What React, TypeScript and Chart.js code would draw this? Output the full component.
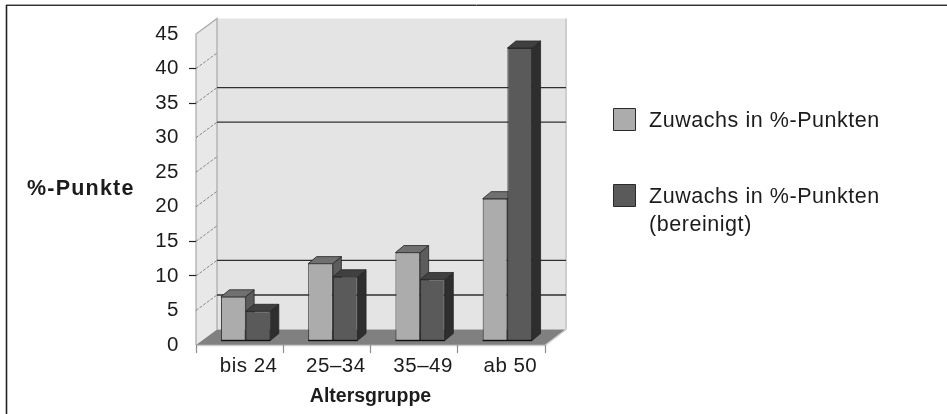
import React, { useEffect, useRef } from "react";
import { Chart, registerables } from "chart.js";

Chart.register(...registerables);

const categories = ["bis 24", "25–34", "35–49", "ab 50"];
const zuwachs = [6.4, 11.2, 12.8, 20.6];
const bereinigt = [4.3, 9.3, 8.9, 42.4];
const seriesOneLabel = "Zuwachs in %-Punkten";
const seriesTwoLabel = ["Zuwachs in %-Punkten", "(bereinigt)"];
const backWallLines = [5, 10, 30, 35];
const markedYTicks = [10, 15, 35, 40];
const yTitle = "%-Punkte";
const xTitle = "Altersgruppe";

const FONT = '"Liberation Sans", Arial, sans-serif';
const DX = 21;
const DY = -15.5;
const BAR_SHIFT_X = 6;
const BAR_SHIFT_Y = -4;
const BAR_DX = 8.5;
const BAR_DY = -7;

const faces = [
  { top: "#707070", side: "#5c5c5c" },
  { top: "#404040", side: "#2e2e2e" },
];

function poly(ctx: CanvasRenderingContext2D, pts: number[][], fill: string, stroke?: string, lw = 1) {
  ctx.beginPath();
  pts.forEach((p, i) => (i ? ctx.lineTo(p[0], p[1]) : ctx.moveTo(p[0], p[1])));
  ctx.closePath();
  ctx.fillStyle = fill;
  ctx.fill();
  if (stroke) {
    ctx.strokeStyle = stroke;
    ctx.lineWidth = lw;
    ctx.stroke();
  }
}

const threeD = {
  id: "threeD",
  beforeDraw(chart: any) {
    const ctx = chart.ctx as CanvasRenderingContext2D;
    const { left, right, top, bottom } = chart.chartArea;
    const y = chart.scales.y;
    ctx.save();
    ctx.fillStyle = "#fff";
    ctx.fillRect(0, 0, chart.width, chart.height);
    // page frame
    ctx.lineWidth = 1;
    ctx.strokeStyle = "#a0a0a0";
    ctx.beginPath();
    ctx.moveTo(6, 4.5);
    ctx.lineTo(chart.width, 4.5);
    ctx.stroke();
    ctx.strokeStyle = "#333333";
    ctx.beginPath();
    ctx.moveTo(6, 5.5);
    ctx.lineTo(chart.width, 5.5);
    ctx.stroke();
    ctx.strokeStyle = "#222";
    ctx.lineWidth = 1.6;
    ctx.beginPath();
    ctx.moveTo(6.5, 5);
    ctx.lineTo(6.5, chart.height);
    ctx.stroke();
    // back wall
    poly(ctx, [[left + DX, top + DY], [right + DX, top + DY], [right + DX, bottom + DY], [left + DX, bottom + DY]], "#e4e4e4");
    // side wall
    poly(ctx, [[left, top], [left + DX, top + DY], [left + DX, bottom + DY], [left, bottom]], "#e8e8e8");
    ctx.strokeStyle = "#a8a8a8";
    ctx.lineWidth = 1.2;
    ctx.beginPath();
    ctx.moveTo(left, bottom);
    ctx.lineTo(left, top);
    ctx.lineTo(left + DX, top + DY);
    ctx.lineTo(left + DX, bottom + DY);
    ctx.stroke();
    ctx.strokeStyle = "#cfcfcf";
    ctx.lineWidth = 2;
    ctx.beginPath();
    ctx.moveTo(right + DX, top + DY);
    ctx.lineTo(right + DX, bottom + DY);
    ctx.stroke();
    // side-wall grid
    ctx.strokeStyle = "#6e6e6e";
    ctx.lineWidth = 0.8;
    y.ticks.forEach((t: any) => {
      if (t.value === 0 || t.value === 45) return;
      const py = y.getPixelForValue(t.value);
      ctx.setLineDash([3, 1.5]);
      ctx.beginPath();
      ctx.moveTo(left, py);
      ctx.lineTo(left + DX, py + DY);
      ctx.stroke();
    });
    ctx.setLineDash([]);
    // back-wall grid
    ctx.strokeStyle = "#303030";
    ctx.lineWidth = 1.4;
    backWallLines.forEach((v) => {
      const py = y.getPixelForValue(v) + DY;
      ctx.beginPath();
      ctx.moveTo(left + DX, py);
      ctx.lineTo(right + DX, py);
      ctx.stroke();
    });
    // floor
    poly(ctx, [[left, bottom], [left + DX, bottom + DY], [right + DX, bottom + DY], [right, bottom]], "#808080");
    ctx.strokeStyle = "#cccccc";
    ctx.lineWidth = 1.5;
    ctx.beginPath();
    ctx.moveTo(left, bottom + 0.5);
    ctx.lineTo(right, bottom + 0.5);
    ctx.lineTo(right + DX, bottom + DY);
    ctx.stroke();
    ctx.restore();
  },
  beforeDatasetsDraw(chart: any) {
    // Depth faces of both series, under every front face.
    const ctx = chart.ctx as CanvasRenderingContext2D;
    ctx.save();
    ctx.translate(BAR_SHIFT_X, BAR_SHIFT_Y);
    [0, 1].forEach((index) => {
      const face = faces[index];
      chart.getDatasetMeta(index).data.forEach((bar: any) => {
        const { x, y, base, width } = bar.getProps(["x", "y", "base", "width"], true);
        const l = x - width / 2;
        const r = x + width / 2;
        poly(ctx, [[r, y], [r + BAR_DX, y + BAR_DY], [r + BAR_DX, base + BAR_DY], [r, base]], face.side, "#262626", 0.8);
        poly(ctx, [[l, y], [l + BAR_DX, y + BAR_DY], [r + BAR_DX, y + BAR_DY], [r, y]], face.top, "#262626", 0.8);
      });
    });
    ctx.restore();
  },
  beforeDatasetDraw(chart: any) {
    const ctx = chart.ctx as CanvasRenderingContext2D;
    ctx.save();
    ctx.translate(BAR_SHIFT_X, BAR_SHIFT_Y);
  },
  afterDatasetDraw(chart: any, args: any) {
    const ctx = chart.ctx as CanvasRenderingContext2D;
    ctx.strokeStyle = "#111";
    ctx.lineWidth = 1.4;
    args.meta.data.forEach((bar: any) => {
      const { x, base, width } = bar.getProps(["x", "base", "width"], true);
      ctx.beginPath();
      ctx.moveTo(x - width / 2, base);
      ctx.lineTo(x + width / 2, base);
      ctx.stroke();
    });
    ctx.restore();
  },
  afterDatasetsDraw(chart: any) {
    // Tick labels (ticks.z = 1) are drawn next: the reference's type is wide.
    (chart.ctx as any).letterSpacing = "0.5px";
  },
  afterDraw(chart: any) {
    const ctx = chart.ctx as CanvasRenderingContext2D;
    ctx.save();
    ctx.fillStyle = "#1c1c1c";
    ctx.textBaseline = "middle";
    ctx.textAlign = "left";
    // y title, horizontal
    ctx.font = `bold 21.5px ${FONT}`;
    (ctx as any).letterSpacing = "1.2px";
    ctx.fillText(yTitle, 27, 189);
    // legend
    const ds = chart.data.datasets;
    ctx.font = `21.5px ${FONT}`;
    (ctx as any).letterSpacing = "0.55px";
    const rows = [
      { box: 108, lines: [seriesOneLabel], ys: [121] },
      { box: 184, lines: seriesTwoLabel, ys: [197, 225] },
    ];
    rows.forEach((row, i) => {
      const b = row.box + 0.5;
      poly(ctx, [[613.5, b], [635.5, b], [635.5, b + 22], [613.5, b + 22]], ds[i].backgroundColor, "#2a2a2a", 1);
      row.lines.forEach((t: string, j: number) => {
        ctx.fillStyle = "#1c1c1c";
        ctx.fillText(t, 649, row.ys[j]);
      });
    });
    (ctx as any).letterSpacing = "0px";
    ctx.restore();
    (ctx as any).letterSpacing = "0px";
  },
};

export default function App() {
  const ref = useRef<HTMLCanvasElement>(null);
  useEffect(() => {
    document.body.style.margin = "0";
    const canvas = ref.current!;
    const chart = new Chart(canvas, {
      type: "bar",
      data: {
        labels: categories,
        datasets: [
          {
            label: seriesOneLabel,
            data: zuwachs,
            backgroundColor: "#acacac",
            borderColor: "#333333",
            borderWidth: 1,
            clip: false,
          },
          {
            label: seriesTwoLabel.join(" "),
            data: bereinigt,
            backgroundColor: "#5a5a5a",
            borderColor: "#2a2a2a",
            borderWidth: 1,
            clip: false,
          },
        ] as any,
      },
      plugins: [threeD as any],
      options: {
        animation: false,
        responsive: false,
        devicePixelRatio: 1,
        layout: { padding: { top: 34, right: 402, bottom: 0, left: 0 }, autoPadding: false },
        datasets: { bar: { categoryPercentage: 0.566, barPercentage: 1 } },
        plugins: { legend: { display: false }, tooltip: { enabled: false } },
        scales: {
          x: {
            position: "bottom",
            afterFit: (s: any) => {
              s.height = 69;
            },
            grid: { offset: true, drawOnChartArea: false, drawTicks: true, tickLength: 8, tickColor: "#8c8c8c", tickWidth: 1.2 },
            border: { display: false },
            ticks: { z: 1, color: "#1c1c1c", font: { family: FONT, size: 20.5 }, padding: 1, labelOffset: 9, maxRotation: 0, autoSkip: false },
            title: { display: true, text: xTitle, color: "#1c1c1c", font: { family: FONT, size: 19.5, weight: "bold" }, padding: { top: 3, bottom: 6 } },
          },
          y: {
            min: 0,
            max: 45,
            afterFit: (s: any) => {
              s.width = 196;
            },
            grid: {
              drawOnChartArea: false,
              drawTicks: true,
              tickLength: 7,
              tickWidth: 1.2,
              tickColor: (c: any) => (markedYTicks.includes(c.tick?.value) ? "#222222" : "rgba(0,0,0,0)"),
            },
            border: { display: false },
            ticks: { z: 1, stepSize: 5, color: "#1c1c1c", font: { family: FONT, size: 20.5 }, padding: 10 },
          },
        },
      } as any,
    });
    return () => chart.destroy();
  }, []);
  return <canvas ref={ref} width={947} height={414} style={{ display: "block", width: 947, height: 414 }} />;
}
